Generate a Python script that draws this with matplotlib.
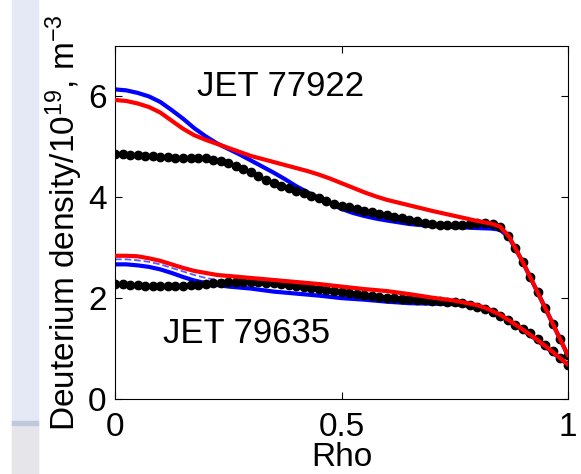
import numpy as np
import matplotlib
matplotlib.use("Agg")
import matplotlib.pyplot as plt
from matplotlib.patches import Rectangle

plt.rcParams['font.family'] = ['Liberation Sans', 'DejaVu Sans']

# rho grid of the measured points (black dots)
rho_dots = np.linspace(0, 1, 61)

dots_77922 = [4.85, 4.85, 4.84, 4.83, 4.82, 4.81, 4.80, 4.79, 4.78, 4.78,
              4.78, 4.78, 4.77, 4.74, 4.71, 4.67, 4.62, 4.56, 4.50, 4.43,
              4.35, 4.29, 4.23, 4.18, 4.13, 4.08, 4.03, 3.98, 3.92, 3.87,
              3.83, 3.80, 3.77, 3.73, 3.70, 3.67, 3.64, 3.61, 3.58, 3.55,
              3.52, 3.49, 3.47, 3.46, 3.45, 3.45, 3.46, 3.47, 3.49, 3.50,
              3.48, 3.42, 3.24, 3.00, 2.72, 2.42, 2.12, 1.80, 1.49, 1.18,
              0.87]

dots_79635 = [2.28, 2.28, 2.27, 2.26, 2.25, 2.24, 2.24, 2.24, 2.24, 2.25,
              2.26, 2.27, 2.28, 2.30, 2.31, 2.32, 2.33, 2.33, 2.33, 2.32,
              2.31, 2.30, 2.28, 2.27, 2.25, 2.23, 2.21, 2.19, 2.17, 2.15,
              2.13, 2.11, 2.09, 2.07, 2.05, 2.03, 2.01, 2.00, 1.99, 1.98,
              1.97, 1.96, 1.95, 1.94, 1.93, 1.92, 1.90, 1.87, 1.83, 1.78,
              1.72, 1.65, 1.56, 1.47, 1.38, 1.30, 1.19, 1.07, 0.95, 0.82,
              0.68]

# simulated profiles, upper shot
rho_up = [0, 0.025, 0.05, 0.075, 0.1, 0.125, 0.15, 0.175, 0.2, 0.225, 0.25,
          0.275, 0.3, 0.325, 0.35, 0.375, 0.4, 0.425, 0.45, 0.475, 0.5,
          0.525, 0.55, 0.575, 0.6, 0.65, 0.7, 0.75, 0.8, 0.83, 0.85, 0.87,
          0.9, 0.95, 1.0]
blue_77922 = [6.14, 6.12, 6.07, 6.00, 5.89, 5.73, 5.56, 5.37, 5.21, 5.07, 4.96,
              4.85, 4.73, 4.61, 4.49, 4.36, 4.22, 4.10, 3.99, 3.88, 3.77,
              3.69, 3.63, 3.58, 3.54, 3.47, 3.43, 3.41, 3.39, 3.38, 3.36, 3.20,
              2.72, 1.80, 0.86]
red_77922 = [5.93, 5.91, 5.86, 5.79, 5.68, 5.52, 5.36, 5.23, 5.14, 5.06, 4.98,
             4.90, 4.82, 4.76, 4.70, 4.64, 4.58, 4.52, 4.45, 4.37, 4.28,
             4.19, 4.10, 4.02, 3.95, 3.84, 3.73, 3.63, 3.53, 3.48, 3.42, 3.22,
             2.72, 1.80, 0.86]

# simulated profiles, lower shot
rho_lo = [0, 0.025, 0.05, 0.075, 0.1, 0.125, 0.15, 0.175, 0.2, 0.225, 0.25,
          0.275, 0.3, 0.35, 0.4, 0.45, 0.5, 0.55, 0.6, 0.65, 0.7, 0.75, 0.8,
          0.825, 0.85, 0.875, 0.9, 0.925, 0.95, 0.975, 1.0]
blue_79635 = [2.67, 2.67, 2.65, 2.62, 2.57, 2.50, 2.42, 2.35, 2.30, 2.26, 2.23,
              2.21, 2.19, 2.13, 2.09, 2.05, 2.00, 1.97, 1.93, 1.90, 1.89, 1.88, 1.83,
              1.76, 1.66, 1.52, 1.37, 1.21, 1.04, 0.86, 0.68]
dash_79635 = [2.77, 2.77, 2.75, 2.72, 2.67, 2.60, 2.53, 2.46, 2.40, 2.36, 2.33,
              2.31, 2.29, 2.25, 2.21, 2.17, 2.12, 2.08, 2.04, 2.00, 1.96, 1.92, 1.85,
              1.77, 1.67, 1.53, 1.38, 1.22, 1.05, 0.87, 0.68]
red_79635 = [2.84, 2.84, 2.83, 2.79, 2.74, 2.67, 2.60, 2.54, 2.50, 2.46, 2.44,
             2.42, 2.40, 2.36, 2.32, 2.28, 2.23, 2.18, 2.14, 2.08, 2.01, 1.95, 1.86,
             1.78, 1.67, 1.53, 1.38, 1.22, 1.05, 0.87, 0.68]

fig = plt.figure(figsize=(5.81, 4.74), dpi=100)
# light strip on the left edge of the screenshot
fig.patches.append(Rectangle((12 / 581, 0), 26 / 581, 1, transform=fig.transFigure,
                             color='#e4e9f5', zorder=0))
fig.patches.append(Rectangle((12 / 581, 0), 26 / 581, 51 / 474, transform=fig.transFigure,
                             color='#e6e6ea', zorder=0))
fig.patches.append(Rectangle((12 / 581, 49 / 474), 26 / 581, 4 / 474, transform=fig.transFigure,
                             color='#bfc9dc', zorder=0))
ax = fig.add_axes([115 / 581, 1 - 399 / 474, 453 / 581, 353 / 474])

style = dict(lw=3, solid_capstyle='round', solid_joinstyle='round')
ax.plot(rho_up, blue_77922, color='#0000ff', zorder=2, **style)
ax.plot(rho_lo, blue_79635, color='#0000ff', zorder=2, **style)
ax.plot(rho_lo, dash_79635, color='#5a5aff', lw=1.3, ls='--', zorder=2)
ax.plot(rho_dots, dots_77922, 'o', color='black', ms=6, zorder=3)
ax.plot(rho_dots, dots_79635, 'o', color='black', ms=6, zorder=3)
ax.plot(rho_up, red_77922, color='#ff0000', zorder=4, **style)
ax.plot(rho_lo, red_79635, color='#ff0000', zorder=4, **style)

ax.text(0.18, 6.2, 'JET 77922', fontsize=25, va='center')
ax.text(0.105, 1.3, 'JET 79635', fontsize=25, va='center')

ax.set_xlim(0, 1)
ax.set_ylim(0, 7)
ax.set_xticks([0, 0.5, 1])
ax.set_xticklabels(['0', '0.5', '1'])
ax.set_yticks([0, 2, 4, 6])
ax.tick_params(direction='in', top=True, right=True, length=5, labelsize=24)
ax.tick_params(axis='x', pad=9)
ax.tick_params(axis='y', pad=6)
ax.set_xlabel('Rho', fontsize=24, labelpad=0)
ax.set_ylabel(r'Deuterium density/10$\mathregular{^{19}}$, m$\mathregular{^{-3}}$',
              fontsize=24, labelpad=2)

fig.savefig('out.png', dpi=100)
